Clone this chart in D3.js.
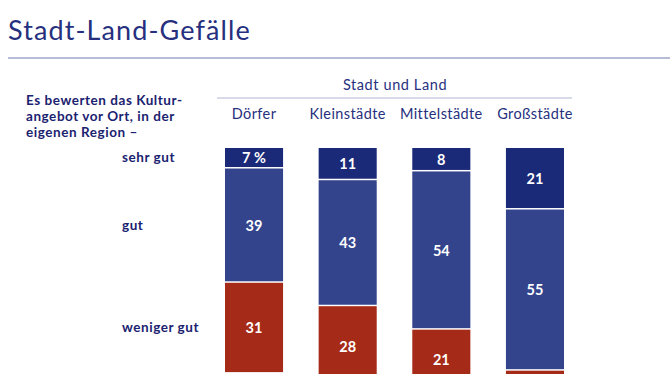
<html>
<head>
  <meta charset="utf-8">
  <style>
    body { margin: 0; background: #fff; }
    svg text { font-family: "Lato", "DejaVu Sans", sans-serif; }
    .light { fill: #26307e; }
    .bold { fill: #1b2270; font-weight: bold; letter-spacing: 0.55px; }
    .val { fill: #fff; font-weight: bold; font-size: 14.5px; text-anchor: middle; }
  </style>
</head>
<body>
<div id="chart"></div>
<script src="https://d3js.org/d3.v7.min.js"></script>
<script>
var categories = ["Dörfer", "Kleinstädte", "Mittelstädte", "Großstädte"];
var sehrGut    = [7, 11, 8, 21];
var gut        = [39, 43, 54, 55];
var wenigerGut = [31, 28, 21, 18];
var seriesKeys  = ["sehrGut", "gut", "wenigerGut"];
var seriesNames = ["sehr gut", "gut", "weniger gut"];
var introLines  = ["Es bewerten das Kultur-", "angebot vor Ort, in der", "eigenen Region –"];

(function () {
  var width = 670, height = 374;
  var colors = ["#1b2a78", "#33448c", "#a52a17"];

  var svg = d3.select("#chart").append("svg")
      .attr("width", width)
      .attr("height", height);

  // title and rule
  svg.append("text")
      .attr("class", "light")
      .attr("x", 8)
      .attr("y", 40)
      .style("font-size", "27px")
      .style("letter-spacing", "1.1px")
      .text("Stadt-Land-Gefälle");

  svg.append("line")
      .attr("x1", 8).attr("x2", width)
      .attr("y1", 58).attr("y2", 58)
      .attr("stroke", "#9ea4c8")
      .attr("stroke-width", 1.5);

  // table built from the arrays
  var table = categories.map(function (c, i) {
    return { cat: c, sehrGut: sehrGut[i], gut: gut[i], wenigerGut: wenigerGut[i] };
  });
  var stacked = d3.stack().keys(seriesKeys)(table);

  var x = d3.scaleBand().domain(categories).range([225, 564]).paddingInner(0.38).paddingOuter(0);
  var y = d3.scaleLinear().domain([0, 100]).range([148, 441]);

  // header
  svg.append("text")
      .attr("class", "light")
      .attr("x", 395)
      .attr("y", 90)
      .attr("text-anchor", "middle")
      .style("font-size", "14.5px")
      .style("letter-spacing", "0.6px")
      .text("Stadt und Land");

  svg.append("line")
      .attr("x1", 217).attr("x2", 572)
      .attr("y1", 98).attr("y2", 98)
      .attr("stroke", "#b0b5d2")
      .attr("stroke-width", 1.2);

  svg.selectAll("text.cat")
    .data(categories)
    .enter().append("text")
      .attr("class", "cat light")
      .attr("x", function (d) { return x(d) + x.bandwidth() / 2; })
      .attr("y", 119)
      .attr("text-anchor", "middle")
      .style("font-size", "14.5px")
      .style("letter-spacing", "0.4px")
      .text(function (d) { return d; });

  // intro text, one text per line
  svg.selectAll("text.intro")
    .data(introLines)
    .enter().append("text")
      .attr("class", "intro bold")
      .attr("x", 26)
      .attr("y", function (d, i) { return 105 + i * 16; })
      .style("font-size", "13.5px")
      .text(function (d) { return d; });

  // bars
  var layers = svg.selectAll("g.layer")
    .data(stacked)
    .enter().append("g")
      .attr("class", "layer")
      .attr("fill", function (d, i) { return colors[i]; });

  layers.selectAll("rect")
    .data(function (d) { return d; })
    .enter().append("rect")
      .attr("x", function (d) { return x(d.data.cat); })
      .attr("y", function (d) { return y(d[0]); })
      .attr("width", x.bandwidth())
      .attr("height", function (d) { return y(d[1]) - y(d[0]) - 1.5; });

  // value labels, only where the segment's middle lies inside the picture
  layers.selectAll("text")
    .data(function (d) {
      return d.map(function (p) { p.key = d.key; return p; })
              .filter(function (p) { return (y(p[0]) + y(p[1])) / 2 < height - 10; });
    })
    .enter().append("text")
      .attr("class", "val")
      .attr("x", function (d) { return x(d.data.cat) + x.bandwidth() / 2; })
      .attr("y", function (d) { return (y(d[0]) + y(d[1])) / 2 + 5; })
      .text(function (d) {
        var v = d[1] - d[0];
        return (d.key === "sehrGut" && d.data.cat === categories[0]) ? v + " %" : v;
      });

  // row labels aligned to the first column's segments
  svg.selectAll("text.row")
    .data(stacked)
    .enter().append("text")
      .attr("class", "row bold")
      .attr("x", 122)
      .attr("y", function (d) { return (y(d[0][0]) + y(d[0][1])) / 2 + 4; })
      .style("font-size", "13.5px")
      .text(function (d, i) { return seriesNames[i]; });
})();
</script>
</body>
</html>
